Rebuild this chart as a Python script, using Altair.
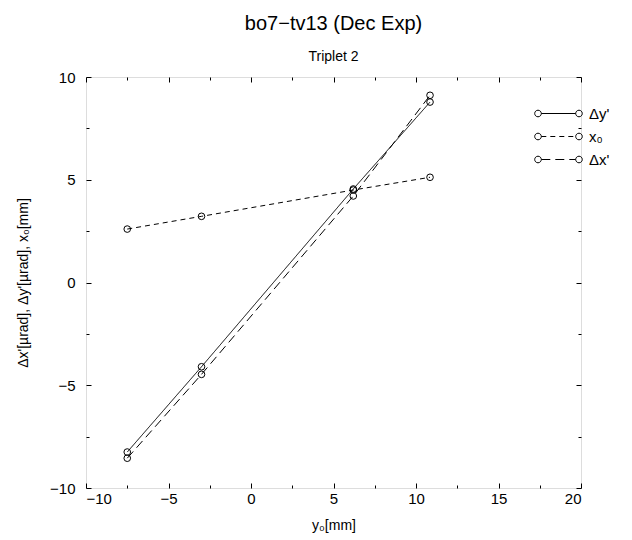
import altair as alt
import pandas as pd

# ---------------- data ----------------
series_names = ["Δy'", "x₀", "Δx'"]
y0_positions = [-7.5, -3.0, 6.2, 10.85]
delta_y_prime = [-8.25, -4.1, 4.55, 8.78]
x0_values = [2.6, 3.22, 4.5, 5.12]
delta_x_prime = [-8.55, -4.47, 4.21, 9.11]

x_ticks_major = [-10, -5, 0, 5, 10, 15, 20]
x_ticks_minor = [-7.5, -2.5, 2.5, 7.5, 12.5, 17.5]
y_ticks_major = [-10, -5, 0, 5, 10]
y_ticks_minor = [-7.5, -2.5, 2.5, 7.5]

rows = []
for name, vals in zip(series_names, [delta_y_prime, x0_values, delta_x_prime]):
    for xv, yv in zip(y0_positions, vals):
        rows.append({"x": xv, "y": yv, "series": name})
df = pd.DataFrame(rows)

# ---------------- styles ----------------
W, H = 495, 411
FONT = "Liberation Sans"
dashes = [[1, 0], [5, 4], [9, 5]]
MAJ, MIN = 5, 3

xs = alt.Scale(domain=[-10, 20], nice=False, zero=False)
ys = alt.Scale(domain=[-10, 10], nice=False, zero=False)


def legend_path(dash):
    u = 8.0            # px per path unit (symbol size 256 -> sqrt/2)
    cx = 20.5 / u
    r = 3.3 / u
    p = []
    for c in (-cx, cx):
        p.append(f"M{c - r:.3f},0 A{r:.3f},{r:.3f} 0 1,0 {c + r:.3f},0 "
                 f"A{r:.3f},{r:.3f} 0 1,0 {c - r:.3f},0 Z")
    a, b = -cx + r, cx - r
    on, off = dash[0] / u, dash[1] / u
    if off == 0:
        p.append(f"M{a:.3f},0 L{b:.3f},0")
    else:
        t = a
        while t < b:
            e = min(t + on, b)
            p.append(f"M{t:.3f},0 L{e:.3f},0")
            t = e + off
    return " ".join(p)


legend_shapes = [legend_path(d) for d in dashes]

base = alt.Chart(df)

label_axis_x = alt.Axis(orient="bottom", values=x_ticks_major, ticks=False,
                        domain=False, grid=True, gridColor="black",
                        gridOpacity=1, gridWidth=1, gridDash=[MAJ, H - 2 * MAJ],
                        labelPadding=3, labelFont=FONT, labelFontSize=15,
                        labelColor="black", title="y₀[mm]", titlePadding=12,
                        titleFont=FONT, titleFontSize=14,
                        titleFontWeight="normal", titleColor="black")
label_axis_y = alt.Axis(orient="left", values=y_ticks_major, ticks=False,
                        domain=False, grid=True, gridColor="black",
                        gridOpacity=1, gridWidth=1, gridDash=[MAJ, W - 2 * MAJ],
                        labelPadding=11, labelFont=FONT, labelFontSize=15,
                        labelColor="black",
                        title="Δx'[µrad], Δy'[µrad], x₀[mm]", titlePadding=19,
                        titleFont=FONT, titleFontSize=14,
                        titleFontWeight="normal", titleColor="black")

line_layers = []
for i, (name, dash) in enumerate(zip(series_names, dashes)):
    if i == 0:
        xenc = alt.X("x:Q", scale=xs, axis=label_axis_x)
        yenc = alt.Y("y:Q", scale=ys, axis=label_axis_y)
    else:
        xenc = alt.X("x:Q", scale=xs, axis=None)
        yenc = alt.Y("y:Q", scale=ys, axis=None)
    line_layers.append(
        base.transform_filter(alt.datum.series == name)
        .mark_line(color="black", strokeWidth=1, strokeDash=dash)
        .encode(x=xenc, y=yenc)
    )

points = base.mark_point(shape="circle", filled=False, color="black",
                         size=44, strokeWidth=1, opacity=1).encode(
    x=alt.X("x:Q", scale=xs, axis=None),
    y=alt.Y("y:Q", scale=ys, axis=None),
    detail="series:N",
)

legend_layer = base.mark_point(
    filled=False, color="black", size=256, strokeWidth=1, opacity=0).encode(
    x=alt.X("x:Q", scale=xs, axis=None),
    y=alt.Y("y:Q", scale=ys, axis=None),
    shape=alt.Shape("series:N",
                    scale=alt.Scale(domain=series_names, range=legend_shapes),
                    legend=alt.Legend(title=None, orient="none",
                                      legendX=464, legendY=28,
                                      symbolSize=256, symbolStrokeColor="black",
                                      symbolFillColor="white", symbolOpacity=1,
                                      symbolStrokeWidth=1, labelFont=FONT,
                                      labelFontSize=15, labelColor="black",
                                      labelOffset=22, rowPadding=6, padding=0)),
)

minor_layer = base.transform_filter("false").mark_point(opacity=0).encode(
    x=alt.X("x:Q", scale=xs,
            axis=alt.Axis(orient="bottom", values=x_ticks_minor, ticks=False,
                          labels=False, domain=False, grid=True,
                          gridColor="black", gridOpacity=1, gridWidth=1,
                          gridDash=[MIN, H - 2 * MIN], title=None)),
    y=alt.Y("y:Q", scale=ys,
            axis=alt.Axis(orient="left", values=y_ticks_minor, ticks=False,
                          labels=False, domain=False, grid=True,
                          gridColor="black", gridOpacity=1, gridWidth=1,
                          gridDash=[MIN, W - 2 * MIN], title=None)),
)

chart = alt.layer(*line_layers, points, legend_layer, minor_layer).resolve_axis(
    x="independent", y="independent"
).properties(
    width=W, height=H,
    autosize=alt.AutoSizeParams(type="none"),
    padding={"left": 78, "top": 69, "right": 40, "bottom": 52},
    title=alt.TitleParams(text="bo7−tv13 (Dec Exp)", subtitle="Triplet 2",
                          font=FONT, subtitleFont=FONT, fontSize=20,
                          subtitleFontSize=14, fontWeight="normal",
                          color="black", subtitleColor="black",
                          anchor="middle", offset=6, subtitlePadding=16),
).configure_view(stroke="#444444", strokeWidth=1).configure(background="white")

chart.save("out.html", embed_options={"renderer": "svg", "actions": False})
